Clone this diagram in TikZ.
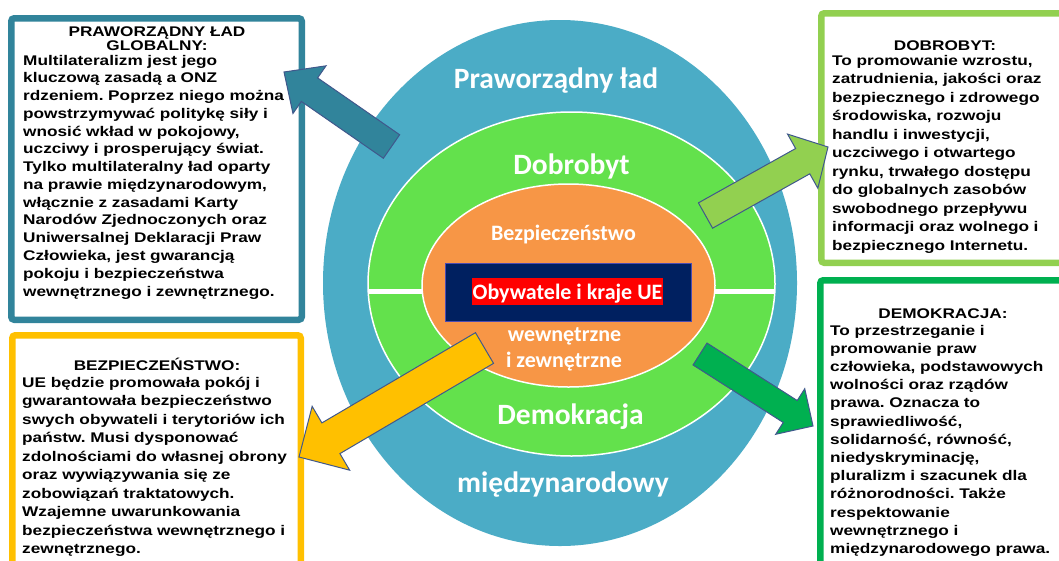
\documentclass[tikz,border=0pt]{standalone}
\usepackage{fontspec}
\usepackage{xcolor}
\usetikzlibrary{calc}
\newfontfamily\boxfont{Liberation Sans}[FakeStretch=1.23]
\newfontfamily\ringfont{Carlito}
\definecolor{ringblue}{RGB}{75,172,198}
\definecolor{ringgreen}{RGB}{99,225,76}
\definecolor{ringorange}{RGB}{247,150,70}
\definecolor{uenavy}{RGB}{0,32,96}
\definecolor{tealframe}{RGB}{49,132,155}
\definecolor{limeframe}{RGB}{146,208,80}
\definecolor{goldframe}{RGB}{255,192,0}
\definecolor{greenframe}{RGB}{0,176,80}
\definecolor{arrowline}{RGB}{64,88,140}
\newcommand{\blockarrow}[6]{%
  \coordinate (neck) at ($(#2)!#5!(#1)$);
  \filldraw[fill=#6,draw=arrowline,line width=1pt]
    ($(#1)!#3!90:(#2)$) -- ($(neck)!#3!90:(#2)$) -- ($(neck)!#4!90:(#2)$) -- (#2)
    -- ($(neck)!#4!-90:(#2)$) -- ($(neck)!#3!-90:(#2)$) -- ($(#1)!#3!-90:(#2)$) -- cycle;}
\frenchspacing

\begin{document}
\begin{tikzpicture}[x=1pt,y=-1pt,
  boxframe/.style={line width=6.5pt,rounded corners=3pt,fill=white},
  boxtitle/.style={font=\fontsize{14}{13.5}\selectfont\boxfont\bfseries,text width=280pt,align=center,inner sep=0pt,anchor=base},
  boxbody/.style={font=\fontsize{14}{#1}\selectfont\boxfont\bfseries,text width=285pt,align=left,inner sep=0pt,anchor=base west},
  ringbig/.style={font=\fontsize{29.5}{32}\selectfont\ringfont\bfseries,text=white,inner sep=0pt,anchor=base},
  ringsmall/.style={font=\fontsize{22}{26}\selectfont\ringfont\bfseries,text=white,inner sep=0pt,anchor=base}]
\useasboundingbox (0,0) rectangle (1059,560);
\clip (0,0) rectangle (1059,560);
\fill[white] (0,0) rectangle (1059,560);

% rings
\fill[ringblue] (560,283) ellipse [x radius=237pt, y radius=263pt];
\filldraw[fill=ringgreen,draw=white,line width=1.5pt] (571.5,284) ellipse [x radius=203.5pt, y radius=172pt];
\draw[white,line width=5pt] (369,291) -- (774,291);
\filldraw[fill=ringorange,draw=white,line width=1.5pt] (568.5,285.5) ellipse [x radius=146.5pt, y radius=101.5pt];
\node[fill=uenavy,draw=gray!60!blue,line width=.8pt,minimum width=246pt,minimum height=58pt] (uebox) at (568,292) {};
\node[fill=red,text=white,font=\fontsize{22}{26}\selectfont\ringfont\bfseries,inner xsep=.5pt,inner ysep=0pt,text height=21pt,text depth=6pt,anchor=base] (ue) at (567.5,299) {Obywatele i kraje UE};

\node[ringbig] (lad) at (556,88.5) {Praworządny ład};
\node[ringbig] (dobrobyt) at (571.5,174.5) {Dobrobyt};
\node[ringsmall] (bezp) at (563.5,240) {Bezpieczeństwo};
\node[ringsmall] (wewn) at (564.5,341) {wewnętrzne};
\node[ringsmall] (zewn) at (564,367) {i zewnętrzne};
\node[ringbig] (demokracja) at (570.5,424.5) {Demokracja};
\node[ringbig] (miedzy) at (563,492) {międzynarodowy};

% boxes
\draw[boxframe,draw=tealframe] (11.25,18.25) rectangle (301.75,319.75);
\draw[boxframe,draw=limeframe] (821.25,13.25) rectangle (1075,262.75);
\draw[boxframe,draw=goldframe] (12.25,335.25) rectangle (300.75,575);
\draw[boxframe,draw=greenframe] (820.25,280.25) rectangle (1075,575);

\node[boxtitle] (ladtitle) at (157,36.7) {PRAWORZĄDNY ŁAD\\GLOBALNY:};
\node[boxbody=17.77] (ladtext) at (23,65) {Multilateralizm jest jego\\
kluczową zasadą a ONZ\\
rdzeniem. Poprzez niego można\\
powstrzymywać politykę siły i\\
wnosić wkład w pokojowy,\\
uczciwy i prosperujący świat.\\
Tylko multilateralny ład oparty\\
na prawie międzynarodowym,\\
włącznie z zasadami Karty\\
Narodów Zjednoczonych oraz\\
Uniwersalnej Deklaracji Praw\\
Człowieka, jest gwarancją\\
pokoju i bezpieczeństwa\\
wewnętrznego i zewnętrznego.};

\node[boxtitle] (dobtitle) at (945,50) {DOBROBYT:};
\node[boxbody=18.5] (dobtext) at (832,65) {To promowanie wzrostu,\\
zatrudnienia, jakości oraz\\
bezpiecznego i zdrowego\\
środowiska, rozwoju\\
handlu i inwestycji,\\
uczciwego i otwartego\\
rynku, trwałego dostępu\\
do globalnych zasobów\\
swobodnego przepływu\\
informacji oraz wolnego i\\
bezpiecznego Internetu.};

\node[boxtitle] (beztitle) at (157,370) {BEZPIECZEŃSTWO:};
\node[boxbody=18.5] (beztext) at (22,387) {UE będzie promowała pokój i\\
gwarantowała bezpieczeństwo\\
swych obywateli i terytoriów ich\\
państw. Musi dysponować\\
zdolnościami do własnej obrony\\
oraz wywiązywania się ze\\
zobowiązań traktatowych.\\
Wzajemne uwarunkowania\\
bezpieczeństwa wewnętrznego i\\
zewnętrznego.};

\node[boxtitle] (demtitle) at (943,318) {DEMOKRACJA:};
\node[boxbody=18.2] (demtext) at (830,335) {To przestrzeganie i\\
promowanie praw\\
człowieka, podstawowych\\
wolności oraz rządów\\
prawa. Oznacza to\\
sprawiedliwość,\\
solidarność, równość,\\
niedyskryminację,\\
pluralizm i szacunek dla\\
różnorodności. Także\\
respektowanie\\
wewnętrznego i\\
międzynarodowego prawa.};

% arrows
\coordinate (ladtail) at (391.5,146.5);   \coordinate (ladtip) at (284,72);
\coordinate (dobtail) at (705.5,215.5);   \coordinate (dobtip) at (828,147);
\coordinate (beztail) at (484.5,348);     \coordinate (beztip) at (299,457);
\coordinate (demtail) at (700,354);       \coordinate (demtip) at (813,426);
\blockarrow{ladtail}{ladtip}{14.3pt}{29pt}{31pt}{tealframe}
\blockarrow{dobtail}{dobtip}{14.5pt}{31pt}{29pt}{limeframe}
\blockarrow{beztail}{beztip}{17.8pt}{37pt}{37pt}{goldframe}
\blockarrow{demtail}{demtip}{13pt}{27pt}{27pt}{greenframe}
\end{tikzpicture}
\end{document}
